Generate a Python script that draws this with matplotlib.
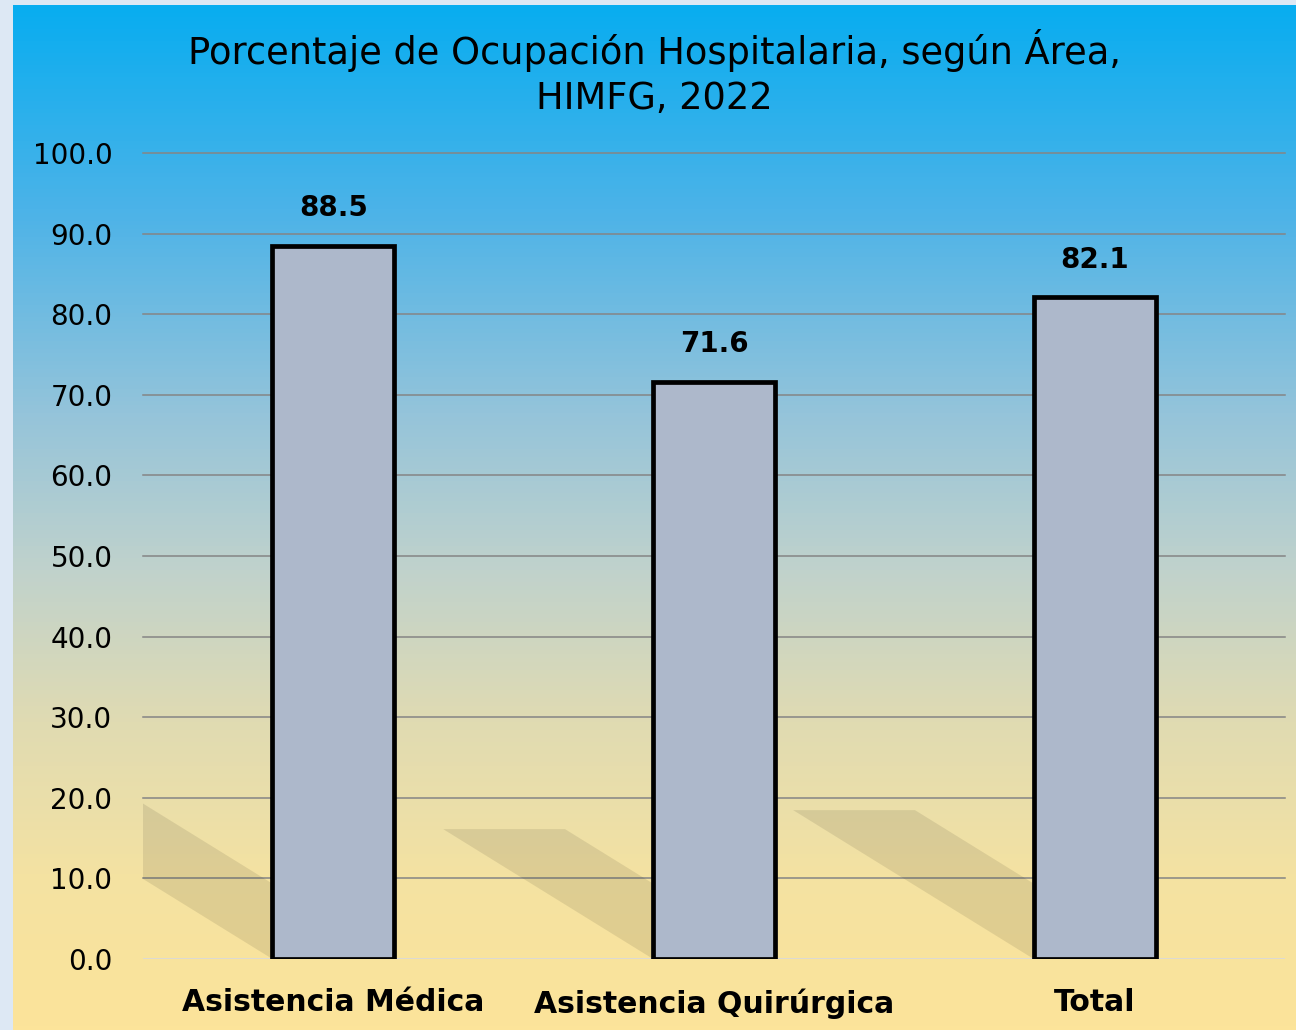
import numpy as np
import matplotlib.pyplot as plt
from matplotlib.colors import LinearSegmentedColormap
from matplotlib.patches import Polygon

categorias = ['Asistencia Médica', 'Asistencia Quirúrgica', 'Total']
porcentajes = [88.5, 71.6, 82.1]
y_ticks = [0, 10, 20, 30, 40, 50, 60, 70, 80, 90, 100]
titulo = 'Porcentaje de Ocupación Hospitalaria, según Área,\nHIMFG, 2022'

plt.rcParams['font.family'] = ['DejaVu Sans']

fig = plt.figure(figsize=(12.96, 10.30), dpi=100)
fig.patch.set_facecolor('#dde8f4')

# fondo degradado del panel
bg = fig.add_axes([13 / 1296, 0, 1 - 13 / 1296, 1 - 5 / 1030], zorder=-5)
cmap = LinearSegmentedColormap.from_list('fondo', [
    (0.0, '#08adf0'), (0.2, '#4cb3e8'), (0.4, '#95c4da'),
    (0.55, '#c0d2cc'), (0.7, '#e0dbb2'), (0.85, '#f4e2a2'), (1.0, '#fce49a')])
grad = np.linspace(0, 1, 256).reshape(-1, 1)
bg.imshow(grad, aspect='auto', cmap=cmap, extent=[0, 1, 0, 1], origin='upper')
bg.axis('off')

ax = fig.add_axes([143 / 1296, 1 - 959 / 1030, (1285 - 143) / 1296, (959 - 153) / 1030])
ax.patch.set_alpha(0)

x = np.arange(len(categorias))
ancho = 0.32

# sombras
for xi, v in zip(x, porcentajes):
    xl = xi - ancho / 2
    dx = 0.0077 * v
    h = 0.225 * v
    sombra = Polygon([(xl, 0), (xl - dx, h), (xl + ancho - dx, h), (xl + ancho, 0)],
                     closed=True, facecolor='black', alpha=0.09, edgecolor='none', zorder=1)
    ax.add_patch(sombra)

ax.bar(x, porcentajes, width=ancho, color='#adb8cb', edgecolor='black', linewidth=3.4, zorder=3)

for xi, v in zip(x, porcentajes):
    ax.annotate(f'{v:.1f}', (xi, v), xytext=(0, 17), textcoords='offset points',
                ha='center', va='bottom', fontsize=20, fontweight='bold', color='black')

ax.set_xlim(-0.5, 2.5)
ax.set_ylim(0, 100)
ax.set_yticks(y_ticks)
ax.set_yticklabels([f'{t:.1f}' for t in y_ticks], fontsize=20)
ax.set_xticks(x)
ax.set_xticklabels(categorias, fontsize=21.5, fontweight='bold')
ax.tick_params(axis='y', length=0, pad=22)
ax.tick_params(axis='x', length=0, pad=21)
for s in ax.spines.values():
    s.set_visible(False)
for t in y_ticks[1:]:
    ax.axhline(t, color='#858585', linewidth=1.1, zorder=0, clip_on=False)
ax.axhline(0, color='#d9d9d9', linewidth=2, zorder=2)

fig.text(0.5 + 6 / 1296, 1 - 73 / 1030, titulo, ha='center', va='center',
         fontsize=26.5, linespacing=1.3, color='black')

fig.savefig('out.png', dpi=100, facecolor=fig.get_facecolor())
